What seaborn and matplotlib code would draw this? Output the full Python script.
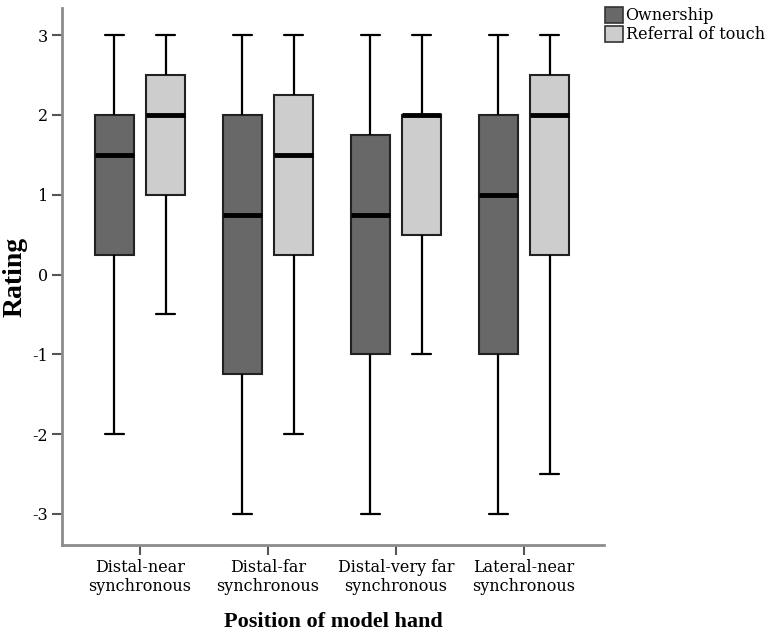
import pandas as pd
import numpy as np
import matplotlib
matplotlib.use("Agg")
import matplotlib.pyplot as plt
import seaborn as sns
from matplotlib.patches import Patch

# Categories and box summaries (low, Q1, median, Q3, high)
positions = ['Distal-near\nsynchronous', 'Distal-far\nsynchronous',
             'Distal-very far\nsynchronous', 'Lateral-near\nsynchronous']
groups = ['Ownership', 'Referral of touch']

ownership = [
    [-2, 0.25, 1.5, 2, 3],
    [-3, -1.25, 0.75, 2, 3],
    [-3, -1, 0.75, 1.75, 3],
    [-3, -1, 1, 2, 3],
]
referral = [
    [-0.5, 1, 2, 2.5, 3],
    [-2, 0.25, 1.5, 2.25, 3],
    [-1, 0.5, 2, 2, 3],
    [-2.5, 0.25, 2, 2.5, 3],
]

colors = ['#686868', '#cdcdcd']

# Build long table
rows = []
for pos, vals in zip(positions, ownership):
    for v in vals:
        rows.append({'position': pos, 'group': groups[0], 'rating': v})
for pos, vals in zip(positions, referral):
    for v in vals:
        rows.append({'position': pos, 'group': groups[1], 'rating': v})
df = pd.DataFrame(rows)

sns.set_style("white")
plt.rcParams['font.family'] = ['DejaVu Serif']
plt.rcParams['text.color'] = 'black'

fig = plt.figure(figsize=(7.74, 6.35), dpi=100)
ax = fig.add_axes([62 / 774, 90 / 635, 542 / 774, 537 / 635])

sns.boxplot(data=df, x='position', y='rating', hue='group', order=positions,
            hue_order=groups, palette=colors, width=0.8, gap=0.25,
            whis=(0, 100), saturation=1, linewidth=1.5, linecolor='#222222',
            medianprops={'color': 'black', 'linewidth': 3.5},
            whiskerprops={'color': 'black', 'linewidth': 1.6},
            capprops={'color': 'black', 'linewidth': 1.6},
            ax=ax, legend=False)

ax.set_ylim(-3.39, 3.34)
ax.set_xlim(-0.61, 3.625)
ax.set_yticks([-3, -2, -1, 0, 1, 2, 3])
ax.set_yticklabels(['-3', '-2', '-1', '0', '1', '2', '3'])

for s in ['top', 'right']:
    ax.spines[s].set_visible(False)
for s in ['left', 'bottom']:
    ax.spines[s].set_color('#8c8c8c')
    ax.spines[s].set_linewidth(2)

ax.tick_params(axis='both', which='major', direction='out', length=7, width=1.5,
               bottom=True, left=True, color='#555555', labelsize=11.5,
               labelcolor='black')
ax.tick_params(axis='x', pad=3)
ax.tick_params(axis='y', pad=3)

ax.set_xlabel('Position of model hand', fontsize=16, fontweight='bold',
              family='Liberation Serif', color='black')
ax.set_ylabel('Rating', fontsize=20, fontweight='bold', family='Liberation Serif',
              color='black')
ax.xaxis.set_label_coords(0.5, (545 - 622) / 537)
ax.yaxis.set_label_coords((15 - 62) / 542, (545 - 277) / 537)
ax.xaxis.label.set_va('center')
ax.yaxis.label.set_va('center')

handles = [Patch(facecolor=c, edgecolor='#333333', linewidth=1.2) for c in colors]
leg = ax.legend(handles, groups, loc='upper left',
                bbox_to_anchor=(600 / 774, 1.0 - 2 / 635),
                bbox_transform=fig.transFigure, frameon=False, fontsize=11.5,
                handlelength=1.15, handleheight=1.15, handletextpad=0.15,
                labelspacing=0.1, borderaxespad=0.0, borderpad=0.3)
for t in leg.get_texts():
    t.set_color('black')

fig.savefig('out.png', dpi=100)
